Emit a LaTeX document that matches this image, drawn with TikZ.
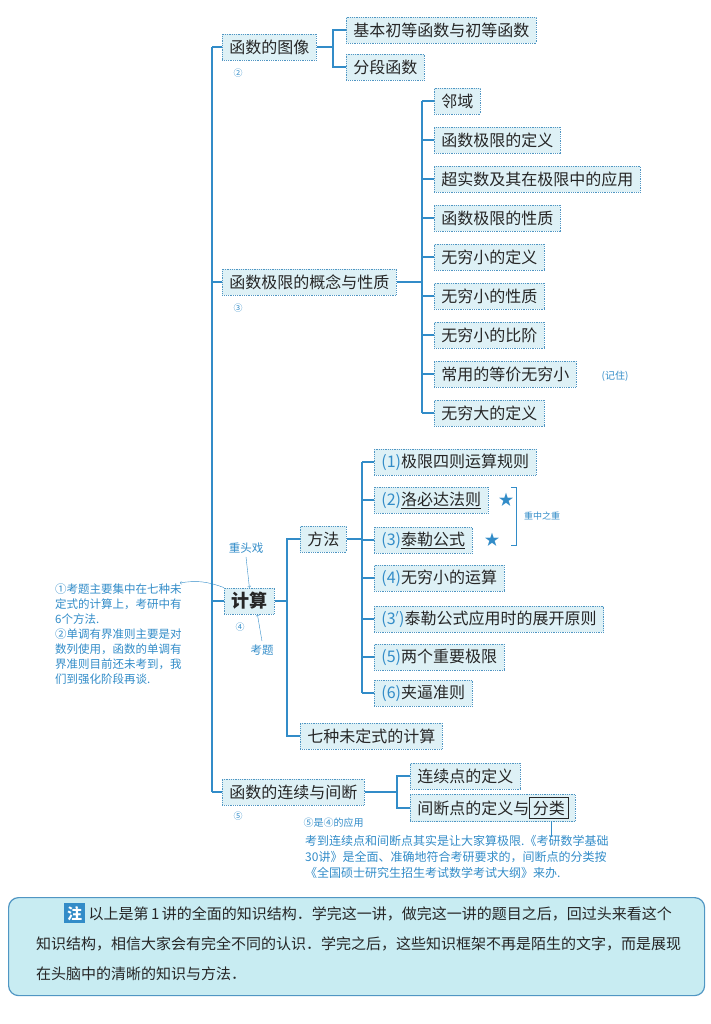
\documentclass[tikz,border=0pt]{standalone}
\usepackage{fontspec}
\setmainfont{Noto Sans CJK SC}
\usetikzlibrary{positioning}
\definecolor{boxfill}{RGB}{222,241,246}
\definecolor{boxline}{RGB}{80,150,195}
\definecolor{linkblue}{RGB}{50,140,200}
\definecolor{notefill}{RGB}{200,236,242}
\tikzset{
  kbox/.style={draw=boxline, densely dotted, thick, fill=boxfill, anchor=west,
    font=\fontsize{16}{17}\selectfont, text=black!85, inner xsep=7pt, inner ysep=3pt, minimum height=26pt},
  link/.style={draw=linkblue, line width=1.1pt},
  hand/.style={text=linkblue, font=\fontsize{11.5}{15}\selectfont},
  num/.style={text=linkblue, font=\fontsize{9}{10}\selectfont},
}
\newcommand{\bl}[1]{\textcolor{linkblue}{#1}}
\begin{document}
\begin{tikzpicture}[x=1pt,y=-1pt]
  \useasboundingbox (0,0) rectangle (711,1024);
  % level one
  \node[kbox] (img) at (222,47) {函数的图像};
  \node[kbox] (lim) at (222,282) {函数极限的概念与性质};
  \node[kbox, font=\fontsize{18}{19}\selectfont\bfseries] (calc) at (224,601) {计算};
  \node[kbox] (cont) at (222,792) {函数的连续与间断};
  \node[num] at (238,73) {②};
  \node[num] at (238,308) {③};
  \node[num] at (240,627) {④};
  \node[num] at (238,816) {⑤};
  \coordinate (trunk) at (212,0);
  \foreach \n in {img,lim,calc,cont}
    \draw[link] (\n.west) -- (\n.west -| trunk);
  \draw[link] (img.west -| trunk) -- (cont.west -| trunk);
  % graphs
  \node[kbox] (ele) at (346,30) {基本初等函数与初等函数};
  \node[kbox] (pie) at (346,67) {分段函数};
  \draw[link] (img.east) -- (333,47);
  \draw[link] (ele.west) -| (333,47) |- (pie.west);
  % limits
  \foreach \t [count=\i] in {邻域,函数极限的定义,超实数及其在极限中的应用,函数极限的性质,
      无穷小的定义,无穷小的性质,无穷小的比阶,常用的等价无穷小,无穷大的定义}{
    \node[kbox] (l\i) at (434,{101+(\i-1)*39}) {\t};
    \draw[link] (l\i.west) -- (422,{101+(\i-1)*39});
  }
  \draw[link] (l1.west -| 422,0) -- (l9.west -| 422,0);
  \draw[link] (lim.east) -- (422,282);
  \node[hand, font=\fontsize{10}{12}\selectfont] at (615,376) {(记住)};
  % calculation
  \node[kbox] (meth) at (300,539) {方法};
  \node[kbox] (seven) at (300,736) {七种未定式的计算};
  \draw[link] (calc.east) -- (287,601);
  \draw[link] (meth.west) -| (287,601) |- (seven.west);
  \node[kbox] (m1) at (374,462) {\bl{(1)}极限四则运算规则};
  \node[kbox] (m2) at (374,500) {\bl{(2)}\underline{洛必达法则}};
  \node[kbox] (m3) at (374,540) {\bl{(3)}\underline{泰勒公式}\hspace{6pt}};
  \node[kbox] (m4) at (374,578) {\bl{(4)}无穷小的运算};
  \node[kbox] (m5) at (374,619) {\bl{(3$'$)}泰勒公式应用时的展开原则};
  \node[kbox] (m6) at (374,657) {\bl{(5)}两个重要极限};
  \node[kbox] (m7) at (374,693) {\bl{(6)}夹逼准则};
  \foreach \i in {1,...,7}
    \draw[link] (m\i.west) -- (m\i.west -| 362,0);
  \draw[link] (m1.west -| 362,0) -- (m7.west -| 362,0);
  \draw[link] (meth.east) -- (362,539);
  \node[text=linkblue, font=\fontsize{15}{15}\selectfont] (s1) at (506,500) {★};
  \node[text=linkblue, font=\fontsize{15}{15}\selectfont] (s2) at (492,540) {★};
  \draw[linkblue, thick] (511,487) -- (516,487) -- (516,545) -- (511,545);
  \node[hand, font=\fontsize{9}{10}\selectfont] at (542,516) {重中之重};
  % notes on calc
  \node[hand] (hard) at (246,548) {重头戏};
  \draw[linkblue, ->, thin] (hard.south) -- (calc.north);
  \node[hand] (exam) at (262,650) {考题};
  \draw[linkblue, ->, thin] (exam.north) -- ([xshift=8pt]calc.south);
  \node[hand, align=left, anchor=north west, inner sep=0pt] (cnote) at (55,584) {①考题主要集中在七种未\\定式的计算上，考研中有\\6个方法.\\②单调有界准则主要是对\\数列使用，函数的单调有\\界准则目前还未考到，我\\们到强化阶段再谈.};
  \draw[linkblue, ->, thin] (calc.north west) to[out=160, in=10] (180,583);
  % continuity
  \node[kbox] (cpt) at (410,776) {连续点的定义};
  \node[kbox] (dpt) at (410,808) {间断点的定义与\fbox{分类}};
  \draw[link] (cont.east) -- (397,792);
  \draw[link] (cpt.west) -| (397,792) |- (dpt.west);
  \node[hand, font=\fontsize{10}{12}\selectfont, anchor=west] at (300,823) {⑤是④的应用};
  \node[hand, font=\fontsize{12}{16}\selectfont, align=left, anchor=north west, inner sep=0pt] (dnote) at (305,835) {考到连续点和间断点其实是让大家算极限.《考研数学基础\\30讲》是全面、准确地符合考研要求的，间断点的分类按\\ 《全国硕士研究生招生考试数学考试大纲》来办.};
  \draw[linkblue, ->, thin] (551,821) -- (551,837);
  % bottom note
  \node[draw=boxline, line width=1.2pt, fill=notefill, rounded corners=10pt, anchor=north west,
    minimum width=696pt, minimum height=98pt] (foot) at (8,897) {};
  \node[anchor=north west, align=left, font=\fontsize{15}{30}\selectfont, text=black!85, inner sep=0pt] (foottext) at (36,903)
    {\hspace{28pt}\colorbox{linkblue}{\textcolor{white}{\bfseries 注}}\ 以上是第\,1\,讲的全面的知识结构．学完这一讲，做完这一讲的题目之后，回过头来看这个\\知识结构，相信大家会有完全不同的认识．学完之后，这些知识框架不再是陌生的文字，而是展现\\在头脑中的清晰的知识与方法．};
\end{tikzpicture}
\end{document}
